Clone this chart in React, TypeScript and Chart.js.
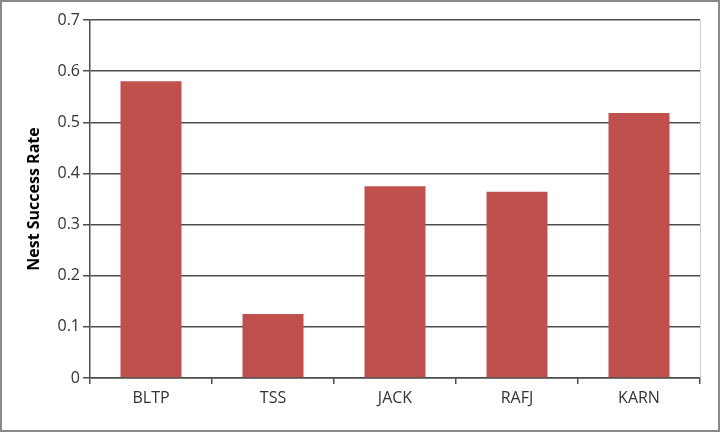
import React, { useEffect, useRef } from 'react';
import { Chart, registerables } from 'chart.js';

Chart.register(...registerables);

const sites = ['BLTP', 'TSS', 'JACK', 'RAFJ', 'KARN'];
const successRates = [0.58, 0.125, 0.375, 0.364, 0.518];

const barColor = '#C0504D';
const gridColor = '#4d4d4d';
const fontFamily = '"Open Sans", sans-serif';

// thin light frame on the right side of the plot area
const plotEdge = {
  id: 'plotEdge',
  afterDraw(chart: any) {
    const { ctx, chartArea } = chart;
    ctx.save();
    ctx.strokeStyle = '#d0d0d0';
    ctx.lineWidth = 1;
    ctx.beginPath();
    ctx.moveTo(chartArea.right + 0.5, chartArea.top);
    ctx.lineTo(chartArea.right + 0.5, chartArea.bottom);
    ctx.stroke();
    ctx.restore();
  },
};

const App: React.FC = () => {
  const canvasRef = useRef<HTMLCanvasElement>(null);

  useEffect(() => {
    document.body.style.margin = '0';
    if (!canvasRef.current) return;
    const chart = new Chart(canvasRef.current, {
      type: 'bar',
      data: {
        labels: sites,
        datasets: [
          {
            label: 'Nest Success Rate',
            data: successRates,
            backgroundColor: barColor,
            borderWidth: 0,
            barPercentage: 0.5,
            categoryPercentage: 1,
          },
        ],
      },
      options: {
        animation: false,
        responsive: false,
        maintainAspectRatio: false,
        layout: { padding: { left: 25, top: 20, right: 20, bottom: 0 } },
        plugins: {
          legend: { display: false },
          tooltip: { enabled: false },
        },
        scales: {
          x: {
            offset: true,
            grid: {
              offset: true,
              drawOnChartArea: false,
              color: gridColor,
              lineWidth: 1.5,
              tickLength: 6,
            },
            border: { color: gridColor, width: 1.5 },
            ticks: { color: '#333', font: { family: fontFamily, size: 16 }, padding: 5 },
            afterFit: (scale: any) => {
              scale.height = 54;
            },
          },
          y: {
            min: 0,
            max: 0.7,
            ticks: {
              stepSize: 0.1,
              color: '#333',
              font: { family: fontFamily, size: 16 },
              padding: 3,
              callback: (v: any) => (v === 0 ? '0' : Number(v).toFixed(1)),
            },
            grid: { color: gridColor, lineWidth: 1.5, tickLength: 7 },
            border: { color: gridColor, width: 1.5 },
            title: {
              display: true,
              text: 'Nest Success Rate',
              color: '#000',
              font: { family: fontFamily, size: 16, weight: 'bold' },
              padding: { top: 0, bottom: 4 },
            },
            afterFit: (scale: any) => {
              scale.width = 65;
            },
          },
        },
      },
      plugins: [plotEdge],
    });
    return () => chart.destroy();
  }, []);

  return (
    <div style={{ position: 'relative', width: 720, height: 432, background: '#fff' }}>
      <canvas ref={canvasRef} width={720} height={432} style={{ display: 'block' }} />
      <div
        style={{
          position: 'absolute',
          inset: 0,
          border: '2px solid #8a8a8a',
          pointerEvents: 'none',
        }}
      />
    </div>
  );
};

export default App;
